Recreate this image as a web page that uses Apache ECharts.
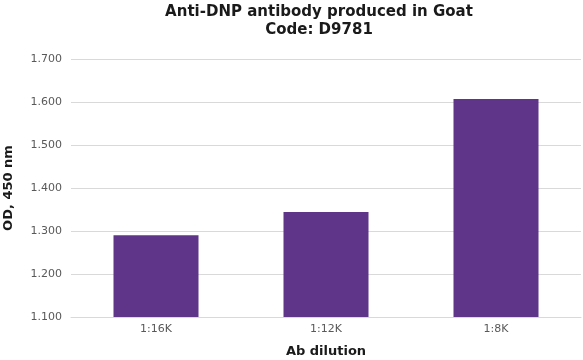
<!DOCTYPE html>
<html>
<head>
<meta charset="utf-8">
<script src="https://cdn.jsdelivr.net/npm/echarts@6/dist/echarts.min.js"></script>
<style>html,body{margin:0;padding:0;background:#fff}#c{width:583px;height:360px}</style>
</head>
<body>
<div id="c"></div>
<script>
var categories = ['1:16K', '1:12K', '1:8K'];
var odValues = [1.290, 1.344, 1.607];
var yTicks = { min: 1.1, max: 1.7, interval: 0.1 };
var titleLines = ['Anti-DNP antibody produced in Goat', 'Code: D9781'];

var chart = echarts.init(document.getElementById('c'), null, {renderer: 'canvas'});
var font = 'DejaVu Sans';
chart.setOption({
  animation: false,
  backgroundColor: '#ffffff',
  title: {
    text: titleLines.join('\n'),
    left: 319,
    top: 3,
    padding: 0,
    textAlign: 'center',
    textStyle: { fontFamily: font, fontSize: 15, fontWeight: 'bold', color: '#1a1a1a', lineHeight: 18 }
  },
  grid: { left: 71, right: 2, top: 59, bottom: 43, containLabel: false, outerBoundsMode: 'none' },
  xAxis: {
    type: 'category',
    data: categories,
    name: 'Ab dilution',
    nameLocation: 'middle',
    nameGap: 28,
    nameTextStyle: { fontFamily: font, fontSize: 13, fontWeight: 'bold', color: '#1a1a1a' },
    axisLine: { lineStyle: { color: '#d9d9d9' } },
    axisTick: { show: false },
    axisLabel: { fontFamily: font, fontSize: 11, color: '#595959', margin: 7 }
  },
  yAxis: {
    type: 'value',
    min: yTicks.min,
    max: yTicks.max,
    interval: yTicks.interval,
    name: 'OD, 450 nm',
    nameLocation: 'middle',
    nameGap: 56,
    nameTextStyle: { fontFamily: font, fontSize: 13, fontWeight: 'bold', color: '#1a1a1a' },
    axisLine: { show: false },
    axisTick: { show: false },
    splitLine: { lineStyle: { color: '#d9d9d9', width: 1 } },
    axisLabel: { fontFamily: font, fontSize: 11, color: '#595959', margin: 9,
      formatter: function (v) { return v.toFixed(3); } }
  },
  series: [{
    type: 'bar',
    data: odValues,
    barWidth: '50%',
    itemStyle: { color: '#5f358a' }
  }]
});
</script>
</body>
</html>
